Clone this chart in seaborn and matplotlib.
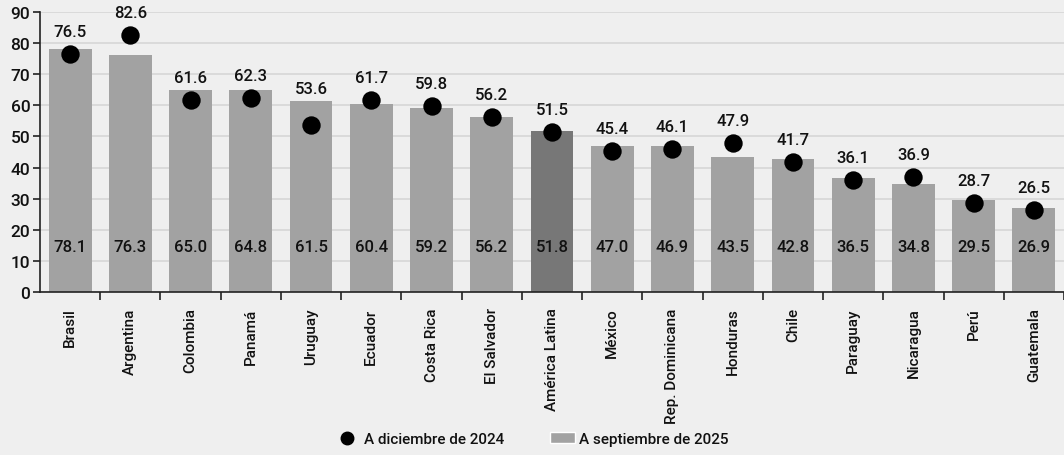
import numpy as np
import pandas as pd
import matplotlib
matplotlib.use("Agg")
import matplotlib.pyplot as plt
from matplotlib.lines import Line2D
from matplotlib.patches import Patch
import seaborn as sns

# ==============================
# DATA
# ==============================
paises = ["Brasil", "Argentina", "Colombia", "Panamá", "Uruguay", "Ecuador",
          "Costa Rica", "El Salvador", "América Latina", "México",
          "Rep. Dominicana", "Honduras", "Chile", "Paraguay", "Nicaragua",
          "Perú", "Guatemala"]
sep_2025 = [78.1, 76.3, 65.0, 64.8, 61.5, 60.4, 59.2, 56.2, 51.8, 47.0,
            46.9, 43.5, 42.8, 36.5, 34.8, 29.5, 26.9]
dic_2024 = [76.5, 82.6, 61.6, 62.3, 53.6, 61.7, 59.8, 56.2, 51.5, 45.4,
            46.1, 47.9, 41.7, 36.1, 36.9, 28.7, 26.5]

df = pd.DataFrame({"pais": paises, "sep": sep_2025, "dic": dic_2024})

# ==============================
# STYLE
# ==============================
BG = "#efefef"
BAR = "#a2a2a2"
BAR_LA = "#777777"
INK = "#111111"
sns.set_theme(style="white")
plt.rcParams["font.family"] = ["Roboto", "DejaVu Sans"]
plt.rcParams["font.weight"] = "medium"
plt.rcParams["text.color"] = INK
plt.rcParams["xtick.color"] = INK
plt.rcParams["ytick.color"] = INK

fig = plt.figure(figsize=(10.64, 4.56), dpi=100, facecolor=BG)
ax = fig.add_axes([40 / 1064, 163 / 456, 1024 / 1064, 280 / 456])
ax.set_facecolor(BG)

colores = [BAR_LA if p == "América Latina" else BAR for p in paises]
sns.barplot(data=df, x="pais", y="sep", hue="pais", palette=colores,
            legend=False, width=0.71, ax=ax, zorder=2, saturation=1,
            linewidth=0, edgecolor="none")
ax.scatter(np.arange(len(paises)), df["dic"], s=175, color="black",
           linewidths=0, zorder=4)

# etiquetas
for i, (b, d) in enumerate(zip(sep_2025, dic_2024)):
    ax.text(i, 14.5, f"{b:.1f}", ha="center", va="center", fontsize=12, zorder=5)
    ytop = max(b + 4.0, d + 7.2)
    ax.text(i, ytop, f"{d:.1f}", ha="center", va="center", fontsize=12, zorder=5)

ax.set_ylim(0, 90)
ax.set_xlim(-0.5, len(paises) - 0.5)
ax.set_yticks(range(0, 91, 10))
ax.yaxis.grid(True, color="#d6d6d6", linewidth=1.2, zorder=0)
ax.set_axisbelow(True)
for s in ["top", "right"]:
    ax.spines[s].set_visible(False)
for s in ["left", "bottom"]:
    ax.spines[s].set_color("#222222")
    ax.spines[s].set_linewidth(1.2)

ax.tick_params(axis="y", which="major", left=True, length=5, width=1.2,
               color="#222222", labelsize=12.5, pad=2)
ax.set_xticks(range(len(paises)))
ax.set_xticklabels(paises, rotation=90, fontsize=11)
ax.tick_params(axis="x", which="major", bottom=False, pad=5)
ax.set_xticks(np.arange(len(paises)) + 0.5, minor=True)
ax.tick_params(axis="x", which="minor", bottom=True, length=6, width=1.2,
               color="#222222")
ax.set_xlabel("")
ax.set_ylabel("")

handles = [
    Line2D([0], [0], marker="o", linestyle="", color="black", markersize=9,
           label="A diciembre de 2024"),
    Patch(facecolor=BAR, label="A septiembre de 2025"),
]
fig.legend(handles=handles, loc="center", bbox_to_anchor=(0.5, 16 / 456),
           ncol=2, frameon=False, fontsize=11, columnspacing=3,
           handlelength=1.6, handletextpad=0.3)

fig.savefig("out.png", dpi=100, facecolor=BG)
